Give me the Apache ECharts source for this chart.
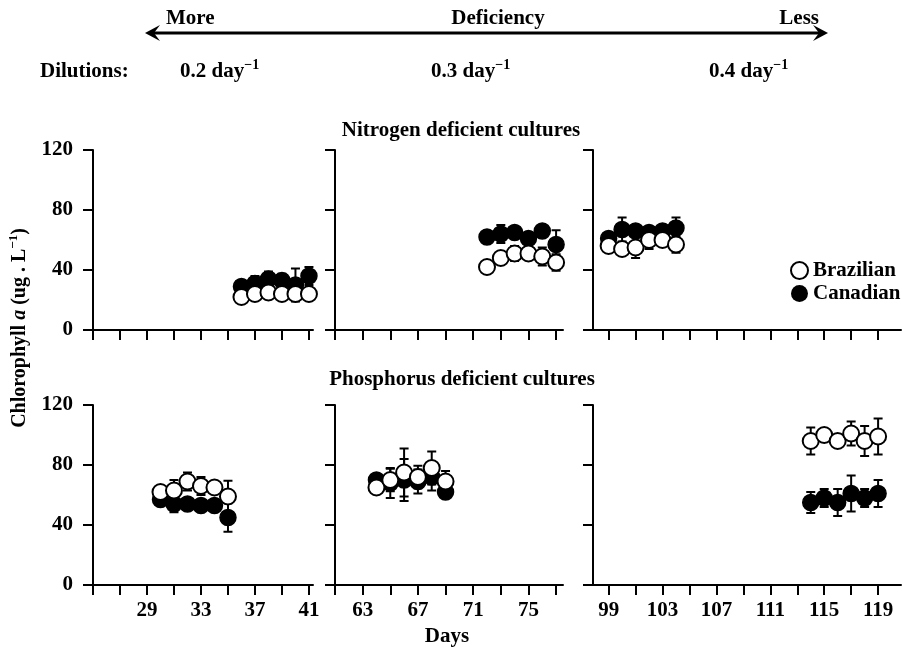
<!DOCTYPE html>
<html>
<head>
<meta charset="utf-8">
<script src="https://cdn.jsdelivr.net/npm/echarts@6/dist/echarts.min.js"></script>
<style>
  html, body { margin: 0; padding: 0; background: #fff; }
  #chart { width: 902px; height: 649px; }
</style>
</head>
<body>
<div id="chart"></div>
<script>
// Nitrogen deficient cultures (top row), dilutions 0.2 / 0.3 / 0.4 day-1
const nDays1 = [36, 37, 38, 39, 40, 41];
const nBraz1 = [22, 24, 25, 24, 24, 24];
const nBrazErr1 = [2, 2, 2, 2, 2, 2];
const nCan1 = [29, 31, 34, 33, 30, 36];
const nCanErr1 = [2, 5, 5, 4.5, 11, 6];

const nDays2 = [72, 73, 74, 75, 76, 77];
const nBraz2 = [42, 48, 51, 51, 49, 45];
const nBrazErr2 = [2, 3, 5, 3, 6, 5.5];
const nCan2 = [62, 64, 65, 61, 66, 57];
const nCanErr2 = [2, 6, 3, 3, 2, 9.5];

const nDays3 = [99, 100, 101, 102, 103, 104];
const nBraz3 = [56, 54, 55, 60, 60, 57];
const nBrazErr3 = [2, 2, 7, 6, 2, 5.5];
const nCan3 = [61, 67, 66, 65, 66, 68];
const nCanErr3 = [2, 8, 3, 2, 2, 7];

// Phosphorus deficient cultures (bottom row)
const pDays1 = [30, 31, 32, 33, 34, 35];
const pBraz1 = [62, 63, 69, 66, 65, 59];
const pBrazErr1 = [3, 7, 6, 6, 2, 10.5];
const pCan1 = [57, 54, 54, 53, 53, 45];
const pCanErr1 = [2, 5.5, 2, 2, 2, 9.5];

const pDays2 = [64, 65, 66, 67, 68, 69];
const pBraz2 = [65, 70, 75, 72, 78, 69];
const pBrazErr2 = [2, 7.5, 16, 7.5, 11, 7];
const pCan2 = [70, 68, 70, 69, 72, 62];
const pCanErr2 = [2, 10, 14, 8, 9, 2];

const pDays3 = [114, 115, 116, 117, 118, 119];
const pBraz3 = [96, 100, 96, 101, 96, 99];
const pBrazErr3 = [9, 2, 3, 8, 10, 12];
const pCan3 = [55, 58, 55, 61, 58, 61];
const pCanErr3 = [7, 6, 9, 12, 6, 9];

// axis ticks and labels
const yTicks = [0, 40, 80, 120];
const xTicks1 = [25, 27, 29, 31, 33, 35, 37, 39, 41];
const xLabels1 = [29, 33, 37, 41];
const xTicks2 = [61, 63, 65, 67, 69, 71, 73, 75, 77];
const xLabels2 = [63, 67, 71, 75];
const xTicks3 = [99, 101, 103, 105, 107, 109, 111, 113, 115, 117, 119];
const xLabels3 = [99, 103, 107, 111, 115, 119];

const FONT = '"Liberation Serif", "Times New Roman", serif';

const panels = [
  { days: nDays1, braz: nBraz1, brazErr: nBrazErr1, can: nCan1, canErr: nCanErr1 },
  { days: nDays2, braz: nBraz2, brazErr: nBrazErr2, can: nCan2, canErr: nCanErr2 },
  { days: nDays3, braz: nBraz3, brazErr: nBrazErr3, can: nCan3, canErr: nCanErr3 },
  { days: pDays1, braz: pBraz1, brazErr: pBrazErr1, can: pCan1, canErr: pCanErr1 },
  { days: pDays2, braz: pBraz2, brazErr: pBrazErr2, can: pCan2, canErr: pCanErr2 },
  { days: pDays3, braz: pBraz3, brazErr: pBrazErr3, can: pCan3, canErr: pCanErr3 }
];

// column layout: pixel position + day range
const cols = [
  { left: 93, width: 220, min: 25, max: 41.3, ticks: xTicks1, labels: xLabels1 },
  { left: 335, width: 228, min: 61, max: 77.5, ticks: xTicks2, labels: xLabels2 },
  { left: 593, width: 308, min: 97.84, max: 120.7, ticks: xTicks3, labels: xLabels3 }
];
const rows = [{ top: 150, height: 180 }, { top: 405, height: 180 }];

const axisLine = { show: true, lineStyle: { color: '#000', width: 2 } };
const axisTick = { show: true, length: 10, lineStyle: { color: '#000', width: 2 } };
const labelFont = { color: '#000', fontFamily: FONT, fontWeight: 'bold', fontSize: 21 };

const grids = [], xAxes = [], yAxes = [];
rows.forEach(function (r, ri) {
  cols.forEach(function (c, ci) {
    grids.push({ left: c.left, top: r.top, width: c.width, height: r.height });
    xAxes.push({
      type: 'value', gridIndex: grids.length - 1, min: c.min, max: c.max,
      splitLine: { show: false },
      axisLine: axisLine,
      axisTick: Object.assign({ customValues: c.ticks }, axisTick),
      axisLabel: Object.assign({ show: ri === 1, customValues: c.labels, margin: 15 }, labelFont)
    });
    yAxes.push({
      type: 'value', gridIndex: grids.length - 1, min: 0, max: 120,
      splitLine: { show: false },
      axisLine: axisLine,
      axisTick: Object.assign({ customValues: yTicks }, axisTick),
      axisLabel: Object.assign({ show: ci === 0, customValues: yTicks, margin: 20 }, labelFont)
    });
  });
});

function errorBars(p, i, vals, errs) {
  return {
    type: 'custom', name: 'err', xAxisIndex: i, yAxisIndex: i, z: 1, silent: true,
    data: p.days.map(function (d, k) { return [d, vals[k], errs[k]]; }),
    renderItem: function (params, api) {
      const x = api.value(0), y = api.value(1), e = api.value(2);
      const hi = api.coord([x, y + e]);
      const lo = api.coord([x, y - e]);
      const cap = 4.5;
      const st = { stroke: '#000', lineWidth: 2 };
      return {
        type: 'group',
        children: [
          { type: 'line', shape: { x1: hi[0], y1: hi[1], x2: lo[0], y2: lo[1] }, style: st },
          { type: 'line', shape: { x1: hi[0] - cap, y1: hi[1], x2: hi[0] + cap, y2: hi[1] }, style: st },
          { type: 'line', shape: { x1: lo[0] - cap, y1: lo[1], x2: lo[0] + cap, y2: lo[1] }, style: st }
        ]
      };
    }
  };
}

const series = [];
panels.forEach(function (p, i) {
  series.push(errorBars(p, i, p.can, p.canErr));
  series.push(errorBars(p, i, p.braz, p.brazErr));
  series.push({
    type: 'scatter', name: 'Canadian', xAxisIndex: i, yAxisIndex: i, z: 2,
    symbol: 'circle', symbolSize: 16,
    itemStyle: { color: '#000', borderColor: '#000', borderWidth: 1.5, opacity: 1 },
    data: p.days.map(function (d, k) { return [d, p.can[k]]; })
  });
  series.push({
    type: 'scatter', name: 'Brazilian', xAxisIndex: i, yAxisIndex: i, z: 3,
    symbol: 'circle', symbolSize: 16,
    itemStyle: { color: '#fff', borderColor: '#000', borderWidth: 2, opacity: 1 },
    data: p.days.map(function (d, k) { return [d, p.braz[k]]; })
  });
});

function makeRich(size, sup) {
  return {
    b: { fontFamily: FONT, fontWeight: 'bold', fontSize: size, color: '#000', lineHeight: size + 6 },
    s: { fontFamily: FONT, fontWeight: 'bold', fontSize: sup, color: '#000', verticalAlign: 'top', lineHeight: size + 6, padding: [0, 0, 7, 0] },
    i: { fontFamily: FONT, fontWeight: 'bold', fontStyle: 'italic', fontSize: size, color: '#000', lineHeight: size + 6 }
  };
}
const headRich = makeRich(21, 14);
const axisRich = makeRich(20, 13);

function txt(x, y, text, align) {
  return {
    type: 'text', x: x, y: y,
    style: { text: text, rich: headRich, fill: '#000', align: align || 'left', verticalAlign: 'middle' }
  };
}

const graphics = [
  // deficiency arrow
  { type: 'line', shape: { x1: 152, y1: 33, x2: 822, y2: 33 }, style: { stroke: '#000', lineWidth: 3 } },
  { type: 'polygon', shape: { points: [[145, 33], [160, 25], [154, 33], [160, 41]] }, style: { fill: '#000' } },
  { type: 'polygon', shape: { points: [[828, 33], [813, 25], [819, 33], [813, 41]] }, style: { fill: '#000' } },
  txt(166, 19, '{b|More}'),
  txt(498, 19, '{b|Deficiency}', 'center'),
  txt(819, 19, '{b|Less}', 'right'),
  txt(40, 72, '{b|Dilutions:}'),
  txt(180, 72, '{b|0.2 day}{s|−1}'),
  txt(431, 72, '{b|0.3 day}{s|−1}'),
  txt(709, 72, '{b|0.4 day}{s|−1}'),
  txt(461, 131, '{b|Nitrogen deficient cultures}', 'center'),
  txt(462, 380, '{b|Phosphorus deficient cultures}', 'center'),
  txt(447, 637, '{b|Days}', 'center'),
  {
    type: 'text', x: 20, y: 328, rotation: Math.PI / 2,
    style: {
      text: '{b|Chlorophyll }{i|a}{b| (ug . L}{s|−1}{b|)}', rich: axisRich,
      fill: '#000', align: 'center', verticalAlign: 'middle'
    }
  }
];

const chart = echarts.init(document.getElementById('chart'), null, { renderer: 'canvas' });
chart.setOption({
  animation: false,
  backgroundColor: '#fff',
  grid: grids,
  xAxis: xAxes,
  yAxis: yAxes,
  legend: {
    left: 785, top: 255, orient: 'vertical', itemGap: 2, itemWidth: 17, itemHeight: 17,
    textStyle: { color: '#000', fontFamily: FONT, fontWeight: 'bold', fontSize: 21 },
    data: [
      { name: 'Brazilian', icon: 'circle', itemStyle: { color: '#fff', borderColor: '#000', borderWidth: 2 } },
      { name: 'Canadian', icon: 'circle', itemStyle: { color: '#000', borderColor: '#000', borderWidth: 0 } }
    ]
  },
  graphic: graphics,
  series: series
});
</script>
</body>
</html>
